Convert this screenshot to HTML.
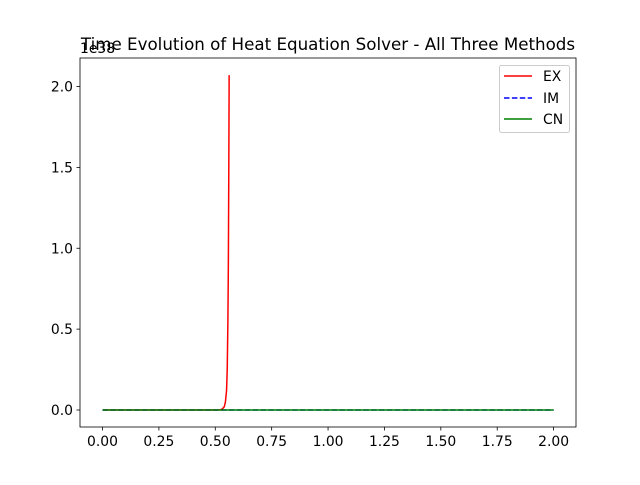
<!DOCTYPE html>
<html><head><meta charset="utf-8"><style>
body{margin:0;background:#fff;}
svg text{font-family:"DejaVu Sans","Liberation Sans",sans-serif;}
</style></head><body>
<svg width="640" height="480" viewBox="0 0 640 480" id="svg">
<rect width="640" height="480" fill="#fff"/>
<text x="328" y="50" font-size="16.7" text-anchor="middle">Time Evolution of Heat Equation Solver - All Three Methods</text>
<text x="80" y="53" font-size="13.9">1e38</text>
<g id="xt"></g>
<g id="yt"></g>
<g id="series"></g>
<rect x="80" y="58" width="496" height="369" fill="none" stroke="#000" stroke-width="0.8"/>
<g>
<rect x="499.5" y="65.5" width="70" height="67" rx="2" fill="#fff" fill-opacity="0.8" stroke="#ccc"/>
<line x1="504" y1="76" x2="532" y2="76" stroke="#f00" stroke-width="1.5"/>
<text x="543" y="81" font-size="13.9">EX</text>
<line x1="504" y1="98" x2="532" y2="98" stroke="#00f" stroke-width="1.5" stroke-dasharray="5.5,2.4"/>
<text x="543" y="103" font-size="13.9">IM</text>
<line x1="504" y1="119" x2="532" y2="119" stroke="#008000" stroke-width="1.5"/>
<text x="543" y="124" font-size="13.9">CN</text>
</g>
</svg>
<script>
const xTicks=[0,0.25,0.5,0.75,1.0,1.25,1.5,1.75,2.0];
const xTickLabels=["0.00","0.25","0.50","0.75","1.00","1.25","1.50","1.75","2.00"];
const yTicks=[0,0.5,1.0,1.5,2.0];
const yTickLabels=["0.0","0.5","1.0","1.5","2.0"];
const exT=[0,0.5,0.52,0.53,0.54,0.545,0.55,0.553,0.556,0.558,0.56,0.5615];
const exV=[0,0,0.001,0.005,0.02,0.05,0.12,0.25,0.55,0.9,1.5,2.07];
const imT=[0,2];
const imV=[0,0];
const cnT=[0,2];
const cnV=[0,0];
const NS="http://www.w3.org/2000/svg";
const X=v=>102.5+v*225.55;
const Y=v=>410-v*161.75;
function mk(tag,attrs,parent){const e=document.createElementNS(NS,tag);for(const k in attrs)e.setAttribute(k,attrs[k]);parent.appendChild(e);return e;}
const xt=document.getElementById('xt'),yt=document.getElementById('yt'),sg=document.getElementById('series');
xTicks.forEach((v,i)=>{
 const l=mk('line',{x1:X(v),x2:X(v),y1:427,y2:430.5,stroke:'#000','stroke-width':0.8},xt);
 
 
 const t=mk('text',{x:X(v),y:446,'font-size':13.9,'text-anchor':'middle'},xt);
 t.textContent=xTickLabels[i];
 
 
});
yTicks.forEach((v,i)=>{
 const l=mk('line',{x1:76.5,x2:80,y1:Y(v),y2:Y(v),stroke:'#000','stroke-width':0.8},yt);
 
 
 const t=mk('text',{x:73,y:Y(v)+5,'font-size':13.9,'text-anchor':'end'},yt);
 t.textContent=yTickLabels[i];
 
 
});
function line(ts,vs,color,dash,name){
 const p=mk('polyline',{points:ts.map((t,i)=>X(t)+','+Y(vs[i])).join(' '),fill:'none',stroke:color,'stroke-width':1.5},sg);
 if(dash)p.setAttribute('stroke-dasharray',dash);
 
 
}
line(exT,exV,'#f00',null,'series-ex');
line(imT,imV,'#00f','5.5,2.4','series-im');
line(cnT,cnV,'#008000',null,'series-cn');
</script>
</body></html>
